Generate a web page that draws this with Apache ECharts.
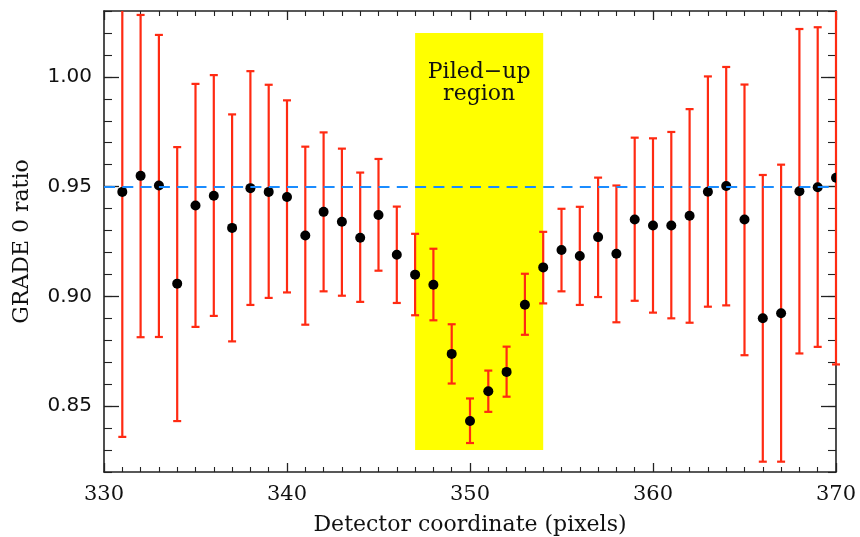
<!DOCTYPE html>
<html>
<head>
<meta charset="utf-8">
<script src="https://cdn.jsdelivr.net/npm/echarts@6/dist/echarts.min.js"></script>
<style>
  html, body { margin: 0; padding: 0; background: #fff; }
  #chart { width: 860px; height: 537px; }
</style>
</head>
<body>
<div id="chart"></div>
<script>
// Detector columns (pixels)
const detectorX = [331, 332, 333, 334, 335, 336, 337, 338, 339, 340,
                   341, 342, 343, 344, 345, 346, 347, 348, 349, 350,
                   351, 352, 353, 354, 355, 356, 357, 358, 359, 360,
                   361, 362, 363, 364, 365, 366, 367, 368, 369, 370];

// GRADE 0 ratio per column
const gradeRatio = [0.9476, 0.9549, 0.9505, 0.9058, 0.9414, 0.9458, 0.9312, 0.9493, 0.9476, 0.9453,
                    0.9277, 0.9385, 0.9340, 0.9267, 0.9371, 0.9190, 0.9099, 0.9053, 0.8738, 0.8432,
                    0.8568, 0.8656, 0.8962, 0.9132, 0.9211, 0.9184, 0.9270, 0.9194, 0.9350, 0.9323,
                    0.9323, 0.9367, 0.9477, 0.9503, 0.9350, 0.8900, 0.8923, 0.9479, 0.9497, 0.9540];

// Lower / upper ends of the error bars
const ratioLow = [0.8360, 0.8814, 0.8815, 0.8432, 0.8861, 0.8911, 0.8795, 0.8961, 0.8993, 0.9018,
                  0.8871, 0.9023, 0.9003, 0.8975, 0.9117, 0.8970, 0.8914, 0.8891, 0.8603, 0.8332,
                  0.8474, 0.8543, 0.8825, 0.8968, 0.9023, 0.8961, 0.8997, 0.8882, 0.8980, 0.8926,
                  0.8900, 0.8880, 0.8953, 0.8959, 0.8732, 0.8247, 0.8247, 0.8740, 0.8770, 0.8690];
const ratioHigh = [1.0590, 1.0282, 1.0191, 0.9680, 0.9968, 1.0008, 0.9829, 1.0026, 0.9964, 0.9893,
                   0.9682, 0.9747, 0.9673, 0.9564, 0.9626, 0.9409, 0.9285, 0.9217, 0.8873, 0.8535,
                   0.8662, 0.8771, 0.9103, 0.9294, 0.9399, 0.9408, 0.9541, 0.9505, 0.9723, 0.9720,
                   0.9749, 0.9853, 1.0002, 1.0045, 0.9965, 0.9553, 0.9600, 1.0218, 1.0226, 1.0390];

// Reference level and piled-up band
const referenceLevel = 0.95;
const pileupBand = { x0: 347, x1: 354, y0: 0.83, y1: 1.02, text: 'Piled\u2212up\nregion' };

// Axis ranges and ticks
const X_MIN = 330, X_MAX = 370, X_STEP = 10;
const Y_MIN = 0.82, Y_MAX = 1.03;
const yMajorTicks = [0.85, 0.90, 0.95, 1.00];
const yMinorTicks = [0.82, 0.83, 0.84, 0.85, 0.86, 0.87, 0.88, 0.89, 0.90, 0.91, 0.92,
                     0.93, 0.94, 0.95, 0.96, 0.97, 0.98, 0.99, 1.00, 1.01, 1.02, 1.03];

const AXIS_COLOR = '#222';
const BAR_COLOR = '#ff2a12';
const DASH_COLOR = '#1a8cff';
const SERIF = '"DejaVu Serif", serif';
const SANS = '"DejaVu Sans", sans-serif';

const barData = detectorX.map((x, i) => [x, ratioLow[i], ratioHigh[i]]);
const pointData = detectorX.map((x, i) => [x, gradeRatio[i]]);

function xAxisDef(pos, showLabel, name) {
  return {
    type: 'value', position: pos, min: X_MIN, max: X_MAX, interval: X_STEP,
    axisLine: { show: true, onZero: false, lineStyle: { color: AXIS_COLOR, width: 1.6 } },
    axisTick: { show: true, inside: true, length: 9, lineStyle: { color: AXIS_COLOR, width: 1.3 } },
    minorTick: { show: true, splitNumber: 10, length: 5, lineStyle: { color: AXIS_COLOR, width: 1.1 } },
    axisLabel: { show: showLabel, margin: 12, color: '#111', fontFamily: SERIF, fontSize: 21 },
    splitLine: { show: false },
    name: name || '', nameLocation: 'middle', nameGap: 42,
    nameTextStyle: { color: '#111', fontFamily: SERIF, fontSize: 22 }
  };
}

function yMajorDef(pos, showLabel, name) {
  return {
    type: 'value', position: pos, min: Y_MIN, max: Y_MAX,
    axisLine: { show: true, onZero: false, lineStyle: { color: AXIS_COLOR, width: 1.6 } },
    axisTick: { show: true, inside: true, length: 15, customValues: yMajorTicks,
                lineStyle: { color: AXIS_COLOR, width: 1.3 } },
    axisLabel: { show: showLabel, margin: 12, customValues: yMajorTicks,
                 formatter: v => v.toFixed(2), color: '#111', fontFamily: SANS, fontSize: 20 },
    splitLine: { show: false },
    name: name || '', nameLocation: 'middle', nameGap: 71,
    nameTextStyle: { color: '#111', fontFamily: SERIF, fontSize: 22 }
  };
}

function yMinorDef(pos) {
  return {
    type: 'value', position: pos, min: Y_MIN, max: Y_MAX,
    axisLine: { show: false },
    axisTick: { show: true, inside: true, length: 8, customValues: yMinorTicks,
                lineStyle: { color: AXIS_COLOR, width: 1.1 } },
    axisLabel: { show: false },
    splitLine: { show: false }
  };
}

const chart = echarts.init(document.getElementById('chart'), null, { renderer: 'canvas' });

chart.setOption({
  animation: false,
  backgroundColor: '#fff',
  grid: { left: 104, right: 24, top: 11, bottom: 65, containLabel: false, outerBoundsMode: 'none' },
  xAxis: [
    xAxisDef('bottom', true, 'Detector coordinate (pixels)'),
    xAxisDef('top', false)
  ],
  yAxis: [
    yMajorDef('left', true, 'GRADE 0 ratio'),
    yMinorDef('left'),
    yMajorDef('right', false),
    yMinorDef('right')
  ],
  series: [
    {
      // yellow band with its caption
      type: 'line', data: [], z: 1, silent: true,
      markArea: {
        silent: true,
        itemStyle: { color: '#ffff00', opacity: 1 },
        label: {
          show: true, position: 'insideTop', distance: 28,
          color: '#111', fontFamily: SERIF, fontSize: 22, lineHeight: 22, align: 'center'
        },
        data: [[
          { name: pileupBand.text, coord: [pileupBand.x0, pileupBand.y0] },
          { coord: [pileupBand.x1, pileupBand.y1] }
        ]]
      }
    },
    {
      // dashed reference level
      type: 'line', data: [], z: 2, silent: true,
      markLine: {
        silent: true, symbol: ['none', 'none'], label: { show: false },
        lineStyle: { color: DASH_COLOR, width: 2.2, type: [11, 7.3] },
        data: [{ yAxis: referenceLevel }]
      }
    },
    {
      // error bars
      type: 'custom', z: 3, silent: true,
      data: barData,
      encode: { x: 0, y: [1, 2] },
      renderItem: function (params, api) {
        const x = api.value(0);
        const lo = api.value(1);
        const hi = api.value(2);
        const top = Math.min(hi, Y_MAX);
        const pTop = api.coord([x, top]);
        const pBot = api.coord([x, lo]);
        const half = 4;
        const style = { stroke: BAR_COLOR, lineWidth: 2.2 };
        const children = [
          { type: 'line', shape: { x1: pTop[0], y1: pTop[1], x2: pBot[0], y2: pBot[1] }, style: style },
          { type: 'line', shape: { x1: pBot[0] - half, y1: pBot[1], x2: pBot[0] + half, y2: pBot[1] }, style: style }
        ];
        if (hi <= Y_MAX) {
          children.push({ type: 'line', shape: { x1: pTop[0] - half, y1: pTop[1], x2: pTop[0] + half, y2: pTop[1] }, style: style });
        }
        return { type: 'group', children: children };
      }
    },
    {
      // measured ratios
      type: 'custom', z: 4, silent: true, clip: true,
      data: pointData,
      encode: { x: 0, y: 1 },
      renderItem: function (params, api) {
        const p = api.coord([api.value(0), api.value(1)]);
        return { type: 'circle', shape: { cx: p[0], cy: p[1], r: 5 }, style: { fill: '#000' } };
      }
    }
  ]
});
</script>
</body>
</html>
